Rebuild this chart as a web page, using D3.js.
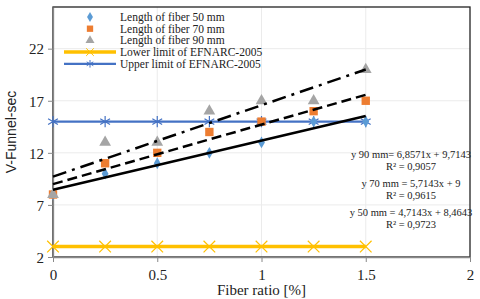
<!DOCTYPE html>
<html>
<head>
<meta charset="utf-8">
<script src="https://cdn.jsdelivr.net/npm/d3@7"></script>
<style>
body { margin: 0; background: #fff; }
svg { display: block; }
</style>
</head>
<body>
<svg id="chart" width="480" height="299"></svg>
<script>
// data
var fiberRatio = [0, 0.25, 0.5, 0.75, 1, 1.25, 1.5];
var fiber50 = [8, 10, 11, 12, 13, 15, 15];
var fiber70 = [8, 11, 12, 14, 15, 16, 17];
var fiber90 = [8, 13, 13, 16, 17, 17, 20];
var lowerLimit = [3, 3, 3, 3, 3, 3, 3];
var upperLimit = [15, 15, 15, 15, 15, 15, 15];
var xTicks = [0, 0.5, 1, 1.5, 2];
var yTicks = [2, 7, 12, 17, 22];
var trends = [
    {name: "90 mm", slope: 6.8571, icpt: 9.7143, eq: "y 90 mm= 6,8571x + 9,7143", r2: "R² = 0,9057", dash: "14,6,3,6"},
    {name: "70 mm", slope: 5.7143, icpt: 9, eq: "y 70 mm = 5,7143x + 9", r2: "R² = 0,9615", dash: "10,5"},
    {name: "50 mm", slope: 4.7143, icpt: 8.4643, eq: "y 50 mm = 4,7143x + 8,4643", r2: "R² = 0,9723", dash: null}
];

var svg = d3.select("#chart");
var m = {left: 53, top: 7, right: 10, bottom: 42};
var W = 480 - m.left - m.right, H = 299 - m.top - m.bottom;
var g = svg.append("g").attr("transform", "translate(" + m.left + "," + m.top + ")");

var x = d3.scaleLinear().domain([0, 2]).range([0, W]);
var y = d3.scaleLinear().domain([2, 26]).range([H, 0]);

// gridlines
g.selectAll(".vgrid").data(xTicks.slice(1, -1)).enter().append("line")
    .attr("x1", function(d){ return x(d); }).attr("x2", function(d){ return x(d); })
    .attr("y1", 0).attr("y2", H).attr("stroke", "#ebebeb").attr("stroke-width", 1);
g.selectAll(".hgrid").data(yTicks.slice(1)).enter().append("line")
    .attr("x1", 0).attr("x2", W)
    .attr("y1", function(d){ return y(d); }).attr("y2", function(d){ return y(d); })
    .attr("stroke", "#ebebeb").attr("stroke-width", 1);

// frame
g.append("rect").attr("width", W).attr("height", H).attr("fill", "none")
    .attr("stroke", "#222").attr("stroke-width", 1.3);

// axes
var xAxis = g.append("g").attr("transform", "translate(0," + H + ")")
    .call(d3.axisBottom(x).tickValues(xTicks).tickSize(5).tickSizeOuter(0).tickFormat(d3.format("")));
var yAxis = g.append("g")
    .call(d3.axisLeft(y).tickValues(yTicks).tickSize(5).tickSizeOuter(0));
[xAxis, yAxis].forEach(function(a){
    a.select(".domain").attr("stroke", "#888").attr("stroke-width", 1.3);
    a.selectAll(".tick line").attr("stroke", "#888");
    a.selectAll("text").attr("font-family", "Liberation Serif").attr("font-size", 15).attr("fill", "#222");
});
xAxis.selectAll("text").attr("dy", "1.0em");
yAxis.selectAll("text").attr("dy", "0.35em").attr("x", -9);

// axis titles
svg.append("text").attr("x", m.left + x(1)).attr("y", 295).attr("text-anchor", "middle")
    .attr("font-family", "Liberation Serif").attr("font-size", 15).attr("fill", "#222")
    .text("Fiber ratio [%]");
svg.append("text").attr("transform", "translate(16," + (m.top + y(14)) + ") rotate(-90)")
    .attr("text-anchor", "middle").attr("font-family", "Liberation Sans").attr("font-size", 14)
    .attr("fill", "#222").text("V-Funnel-sec");

function pts(vals){ return fiberRatio.map(function(d, i){ return {x: d, y: vals[i]}; }); }
var line = d3.line().x(function(d){ return x(d.x); }).y(function(d){ return y(d.y); });

// limit lines
g.append("path").datum(pts(lowerLimit)).attr("d", line).attr("fill", "none")
    .attr("stroke", "#FFC000").attr("stroke-width", 3.5);
g.append("path").datum(pts(upperLimit)).attr("d", line).attr("fill", "none")
    .attr("stroke", "#4472C4").attr("stroke-width", 2.2);

// scatter markers
var diamond = d3.symbol().type(d3.symbolDiamond).size(40);
var square = d3.symbol().type(d3.symbolSquare).size(70);
var triangle = d3.symbol().type(d3.symbolTriangle).size(60);
var cross = d3.symbol().type(d3.symbolX).size(90);
var star = d3.symbol().type(d3.symbolAsterisk).size(90);

function drawMarkers(vals, sym, fill, stroke, sw){
    g.append("g").selectAll("path").data(pts(vals)).enter().append("path")
        .attr("transform", function(d){ return "translate(" + x(d.x) + "," + y(d.y) + ")"; })
        .attr("d", sym)
        .attr("fill", fill).attr("stroke", stroke).attr("stroke-width", sw);
}
drawMarkers(lowerLimit, cross, "none", "#FFC000", 1.2);
drawMarkers(upperLimit, star, "none", "#4472C4", 1.2);
drawMarkers(fiber50, diamond, "#5B9BD5", "none", 0);
drawMarkers(fiber70, square, "#ED7D31", "none", 0);
drawMarkers(fiber90, triangle, "#A5A5A5", "none", 0);

// trend lines
trends.forEach(function(t){
    var ends = [0, 1.5].map(function(v){ return {x: v, y: t.slope * v + t.icpt}; });
    var p = g.append("path").datum(ends).attr("d", line).attr("fill", "none")
        .attr("stroke", "#000").attr("stroke-width", 2.5);
    if (t.dash) p.attr("stroke-dasharray", t.dash);
});

// equations
var eqY = [158, 187, 216];
trends.forEach(function(t, i){
    svg.append("text").attr("x", 411).attr("y", eqY[i]).attr("text-anchor", "middle")
        .attr("font-family", "Liberation Serif").attr("font-size", 10.5).attr("fill", "#222").text(t.eq);
    svg.append("text").attr("x", 411).attr("y", eqY[i] + 12).attr("text-anchor", "middle")
        .attr("font-family", "Liberation Serif").attr("font-size", 10.5).attr("fill", "#222").text(t.r2);
});

// legend
var legend = [
    {label: "Length of fiber 50 mm", sym: diamond, size: 30, fill: "#5B9BD5", stroke: "none", line: null},
    {label: "Length of fiber 70 mm", sym: square, size: 40, fill: "#ED7D31", stroke: "none", line: null},
    {label: "Length of fiber 90 mm", sym: triangle, size: 35, fill: "#A5A5A5", stroke: "none", line: null},
    {label: "Lower limit of EFNARC-2005", sym: cross, size: 40, fill: "none", stroke: "#FFC000", line: 3.5},
    {label: "Upper limit of EFNARC-2005", sym: star, size: 40, fill: "none", stroke: "#4472C4", line: 2.2}
];
var lg = svg.append("g");
legend.forEach(function(d, i){
    var ly = 17 + i * 11.7;
    if (d.line) {
        lg.append("line").attr("x1", 64).attr("x2", 116).attr("y1", ly).attr("y2", ly)
            .attr("stroke", d.stroke).attr("stroke-width", d.line);
    }
    lg.append("path").attr("transform", "translate(90," + ly + ")")
        .attr("d", d3.symbol().type(d.sym.type()).size(d.size)())
        .attr("fill", d.fill).attr("stroke", d.stroke).attr("stroke-width", 1);
    lg.append("text").attr("x", 120).attr("y", ly).attr("dy", "0.35em")
        .attr("font-family", "Liberation Serif").attr("font-size", 11.5).attr("fill", "#222").text(d.label);
});
</script>
</body>
</html>
